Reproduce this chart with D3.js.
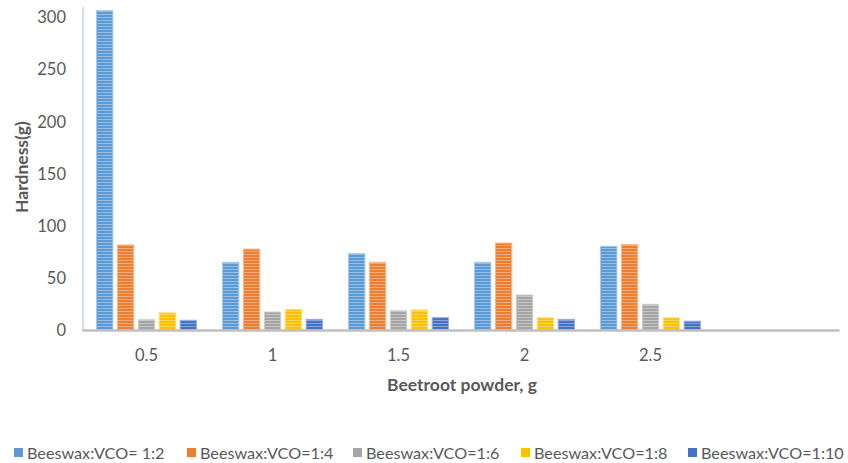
<!DOCTYPE html>
<html><head><meta charset="utf-8">
<script src="https://cdn.jsdelivr.net/npm/d3@7"></script>
<style>body{margin:0;background:#fff;} svg{display:block;font-family:Lato,"Open Sans",sans-serif;}</style>
</head><body><svg id="c" width="848" height="463"></svg>
<script>
const categories = ["0.5","1","1.5","2","2.5",""];
const seriesNames = ["Beeswax:VCO= 1:2","Beeswax:VCO=1:4","Beeswax:VCO=1:6","Beeswax:VCO=1:8","Beeswax:VCO=1:10"];
const s12 = [307, 65.8, 74.1, 65.8, 81.1];
const s14 = [82.5, 78.5, 65.8, 84.3, 83];
const s16 = [10.8, 18.2, 19.3, 34.5, 25.6];
const s18 = [17.4, 20.6, 20.1, 12.6, 12.6];
const s110 = [10.3, 11.2, 12.8, 11.2, 9.4];
const seriesValues = [s12, s14, s16, s18, s110];
const yTicks = [0,50,100,150,200,250,300];
const colors = ["#5B9BD5","#ED7D31","#A5A5A5","#FFC000","#4472C4"];

const svg = d3.select("#c");
const pLeft = 83.5, pRight = 839.5, pTop = 7, pBottom = 330.5;
const x = d3.scaleBand().domain(d3.range(categories.length)).range([pLeft, pRight]).padding(0);
const bw = x.bandwidth();
const xs = d3.scaleBand().domain(d3.range(seriesNames.length)).range([bw/2 - 50.5, bw/2 + 50.5]).paddingInner(0.17).paddingOuter(0);
const y = d3.scaleLinear().domain([0, 310]).range([pBottom, pTop]);

const defs = svg.append("defs");
colors.forEach((c, i) => {
  const p = defs.append("pattern").attr("id", "p" + i).attr("patternUnits", "userSpaceOnUse")
    .attr("width", 4).attr("height", 3);
  p.append("rect").attr("width", 4).attr("height", 3).attr("fill", c);
  p.append("rect").attr("y", 2).attr("width", 4).attr("height", 1).attr("fill", d3.interpolateRgb(c, "#fff")(0.35));
});

// y axis line
svg.append("line").attr("x1", pLeft - 0.5).attr("x2", pLeft - 0.5).attr("y1", pTop).attr("y2", pBottom)
  .attr("stroke", "#9DC3E6").attr("stroke-width", 1);

// y tick labels
const yAxis = d3.axisLeft(y).tickValues(yTicks).tickSize(0).tickPadding(0);
const gy = svg.append("g").attr("transform", `translate(66,0)`).call(yAxis);
gy.select(".domain").remove();
gy.selectAll("text").attr("font-size", 16.5).attr("fill", "#595959").attr("font-family", "Lato, sans-serif");

// bars
const groups = svg.append("g").selectAll("g").data(seriesValues).join("g")
  .attr("fill", (d, i) => `url(#p${i})`).attr("stroke", (d, i) => d3.interpolateRgb(colors[i], "#fff")(0.45)).attr("stroke-width", 1);
groups.each(function(vals, si) {
  d3.select(this).selectAll("rect").data(vals).join("rect")
    .attr("x", (v, ci) => x(ci) + xs(si) + 0.5)
    .attr("width", xs.bandwidth() - 1)
    .attr("y", v => y(v) + 0.5)
    .attr("height", v => y(0) - y(v) - 0.5);
});

// x axis
svg.append("line").attr("x1", pLeft - 1).attr("x2", pRight).attr("y1", pBottom).attr("y2", pBottom)
  .attr("stroke", "#BFBFBF").attr("stroke-width", 2.5);
const xAxis = d3.axisBottom(x).tickFormat(i => categories[i]).tickSize(0).tickPadding(0);
const gx = svg.append("g").attr("transform", `translate(0,349)`).call(xAxis);
gx.select(".domain").remove();
gx.selectAll("text").attr("font-size", 16.5).attr("fill", "#595959").attr("font-family", "Lato, sans-serif");

// axis titles
svg.append("text").attr("transform", "translate(28,167) rotate(-90)").attr("text-anchor", "middle")
  .attr("font-size", 17.5).attr("font-weight", "bold").attr("fill", "#595959").text("Hardness(g)");
svg.append("text").attr("x", 462).attr("y", 391).attr("text-anchor", "middle")
  .attr("font-size", 17.5).attr("font-weight", "bold").attr("fill", "#595959").text("Beetroot powder, g");

// legend
const legX = [14, 187, 353, 521, 688];
const leg = svg.append("g").selectAll("g").data(seriesNames).join("g")
  .attr("transform", (d, i) => `translate(${legX[i]},453)`);
leg.append("rect").attr("x", 0).attr("y", -5).attr("width", 9).attr("height", 9).attr("fill", (d, i) => colors[i]);
leg.append("text").attr("x", 13).attr("y", 5.5).attr("font-size", 16.2).attr("fill", "#595959").text(d => d);
</script></body></html>
